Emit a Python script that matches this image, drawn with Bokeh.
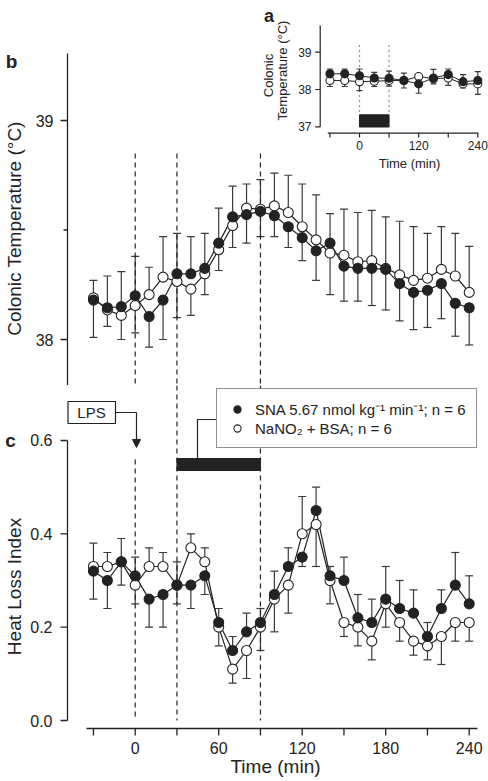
import numpy as np
from bokeh.plotting import figure
from bokeh.models import (Range1d, ColumnDataSource, Whisker, TeeHead, Legend, LegendItem,
                          Arrow, NormalHead)
from bokeh.layouts import column
from bokeh.embed import file_html
from bokeh.resources import INLINE
from bokeh.core.properties import value

# ---------------- data ----------------
time_main = [-30, -20, -10, 0, 10, 20, 30, 40, 50, 60, 70, 80, 90, 100, 110, 120,
             130, 140, 150, 160, 170, 180, 190, 200, 210, 220, 230, 240]

temp_sna = [38.18, 38.145, 38.15, 38.20, 38.105, 38.18, 38.30, 38.30, 38.325, 38.44,
            38.56, 38.57, 38.585, 38.565, 38.515, 38.465, 38.405, 38.44, 38.335, 38.325,
            38.325, 38.32, 38.255, 38.215, 38.225, 38.255, 38.165, 38.145]
temp_sna_sem = [0.17, 0.145, 0.16, 0.18, 0.14, 0.18, 0.185, 0.17, 0.16, 0.16,
                0.14, 0.13, 0.115, 0.095, 0.095, 0.105, 0.135, 0.135, 0.16, 0.15,
                0.17, 0.185, 0.17, 0.17, 0.17, 0.16, 0.15, 0.17]
temp_nit = [38.19, 38.135, 38.11, 38.155, 38.205, 38.285, 38.265, 38.23, 38.30, 38.41,
            38.52, 38.60, 38.595, 38.61, 38.58, 38.515, 38.455, 38.395, 38.385, 38.355,
            38.36, 38.325, 38.295, 38.27, 38.28, 38.32, 38.29, 38.215]
temp_nit_sem = [0.08, 0.075, 0.11, 0.125, 0.125, 0.185, 0.165, 0.12, 0.095, 0.095,
                0.10, 0.11, 0.135, 0.15, 0.17, 0.195, 0.205, 0.19, 0.21, 0.225,
                0.23, 0.235, 0.245, 0.245, 0.205, 0.195, 0.195, 0.21]

hli_sna = [0.32, 0.30, 0.34, 0.31, 0.26, 0.27, 0.29, 0.29, 0.31, 0.21, 0.15, 0.19, 0.21, 0.27,
           0.33, 0.35, 0.45, 0.31, 0.30, 0.22, 0.21, 0.26, 0.24, 0.23, 0.18, 0.24, 0.29, 0.25]
hli_sna_sem = [0.06, 0.06, 0.05, 0.04, 0.06, 0.07, 0.05, 0.05, 0.04, 0.03, 0.03, 0.04, 0.03, 0.05,
               0.04, 0.02, 0.05, 0.02, 0.05, 0.05, 0.05, 0.07, 0.06, 0.05, 0.03, 0.04, 0.07, 0.06]
hli_nit = [0.33, 0.33, 0.34, 0.29, 0.33, 0.33, 0.29, 0.37, 0.34, 0.20, 0.11, 0.15, 0.20, 0.26,
           0.29, 0.40, 0.42, 0.30, 0.21, 0.20, 0.17, 0.25, 0.21, 0.17, 0.16, 0.18, 0.21, 0.21]
hli_nit_sem = [0.05, 0.03, 0.05, 0.04, 0.04, 0.03, 0.04, 0.03, 0.03, 0.04, 0.03, 0.06, 0.05, 0.07,
               0.06, 0.08, 0.09, 0.05, 0.03, 0.04, 0.04, 0.05, 0.04, 0.03, 0.03, 0.06, 0.04, 0.04]

time_inset = [-60, -30, 0, 30, 60, 90, 120, 150, 180, 210, 240]
inset_sna = [38.42, 38.42, 38.37, 38.31, 38.30, 38.24, 38.15, 38.31, 38.40, 38.21, 38.24]
inset_sna_sem = [0.13, 0.13, 0.18, 0.15, 0.19, 0.20, 0.25, 0.23, 0.15, 0.19, 0.24]
inset_nit = [38.24, 38.24, 38.21, 38.22, 38.24, 38.24, 38.35, 38.29, 38.31, 38.15, 38.15]
inset_nit_sem = [0.16, 0.16, 0.24, 0.14, 0.15, 0.20, 0.05, 0.14, 0.20, 0.11, 0.28]

lps_time = 0
infusion_main = [30, 90]
infusion_inset = [0, 60]

x_ticks_labeled = [0, 60, 120, 180, 240]
x_ticks_all = [-30, 0, 30, 60, 90, 120, 150, 180, 210, 240]
temp_ticks = [38, 39]
temp_minor_ticks = [38.5]
hli_ticks = [0.0, 0.2, 0.4, 0.6]
inset_y_ticks = [37, 38, 39]
inset_x_ticks = [-60, 0, 60, 120, 180, 240]
inset_x_labels = [0, 120, 240]

sna_label = "SNA 5.67 nmol kg\u207b\u00b9 min\u207b\u00b9; n = 6"
nit_label = "NaNO\u2082 + BSA; n = 6"

# ---------------- style / layout ----------------
FONT = "Liberation Sans"
INK = "#222222"
BAR_INK = "#3a3a3a"
W = 488


# page-pixel -> data helpers (used only to place layout items)
def bx(px):   # main time axis
    return (px - 134.7) / 1.3917


def by(py):   # panel b temperature
    return 38 + (339 - py) / 219.0


def cy(py):   # panel c heat loss index
    return (720 - py) / 466.7


def ix(px):   # inset time
    return (px - 359) / 0.4929


def iy(py):   # inset temperature
    return 39 - (py - 51.7) / 37.3


def whisker_limits(a, b, sa, sb):
    """Upper series gets an upward bar, lower series a downward bar."""
    a_up, a_lo, b_up, b_lo = [], [], [], []
    for ya, yb, ea, eb in zip(a, b, sa, sb):
        if ya >= yb:
            a_up.append(ya + ea); a_lo.append(ya)
            b_up.append(yb); b_lo.append(yb - eb)
        else:
            a_up.append(ya); a_lo.append(ya - ea)
            b_up.append(yb + eb); b_lo.append(yb)
    return a_up, a_lo, b_up, b_lo


def txt(p, xs, ys, texts, size, align="center", baseline="middle", angle=0.0,
        bold=False, **rn):
    p.text(x=xs, y=ys, text=texts, angle=angle, text_font=value(FONT),
           text_font_size=value(size), text_font_style="bold" if bold else "normal",
           text_align=align, text_baseline=baseline, text_color=INK, **rn)


def seg(p, x0, x1, y0, y1, width=1.3, dash="solid", **rn):
    p.segment(x0=x0, x1=x1, y0=y0, y1=y1, line_color=INK, line_width=width,
              line_dash=dash, **rn)


def draw_series(p, t, ys, sems, yo, semo, size, head, lw, **rn):
    su, sl, ou, ol = whisker_limits(ys, yo, sems, semo)
    src_s = ColumnDataSource(dict(t=t, y=ys, u=su, l=sl))
    src_o = ColumnDataSource(dict(t=t, y=yo, u=ou, l=ol))
    for src in (src_o, src_s):
        w = Whisker(source=src, base="t", upper="u", lower="l", dimension="height",
                    line_color=BAR_INK, line_width=1.2, level="underlay",
                    upper_head=TeeHead(size=head, line_color=BAR_INK, line_width=1.2),
                    lower_head=TeeHead(size=head, line_color=BAR_INK, line_width=1.2), **rn)
        p.add_layout(w)
    p.line("t", "y", source=src_o, line_color=INK, line_width=lw, **rn)
    p.line("t", "y", source=src_s, line_color=INK, line_width=lw, **rn)
    r_o = p.scatter("t", "y", source=src_o, marker="circle", size=size, fill_color="white",
                    line_color=INK, line_width=1.1, **rn)
    r_s = p.scatter("t", "y", source=src_s, marker="circle", size=size, fill_color=INK,
                    line_color=INK, line_width=1.1, **rn)
    return r_s, r_o


def make_fig(height, y_range, x_range):
    p = figure(width=W, height=height, output_backend="svg", toolbar_location=None,
               x_range=x_range, y_range=y_range, x_axis_location=None, y_axis_location=None,
               min_border_left=0, min_border_right=0, min_border_top=0, min_border_bottom=0,
               outline_line_color=None, background_fill_color="white",
               border_fill_color="white")
    p.grid.visible = False
    return p


# frames: b covers page y 0..385, c covers 385..781, both x 0..488
x_range = Range1d(bx(0), bx(488))

# ================= panel b (colonic temperature) =================
pb = make_fig(385, Range1d(by(385), by(0)), x_range)

# y axis of b
seg(pb, [bx(67)], [bx(67)], [by(385)], [by(53)])
seg(pb, [bx(67)] * 2, [bx(60)] * 2, temp_ticks, temp_ticks)
seg(pb, [bx(67)], [bx(63)], temp_minor_ticks, temp_minor_ticks)
txt(pb, [bx(53)] * 2, temp_ticks, [str(v) for v in temp_ticks], "16px", align="right")
txt(pb, [bx(14)], [by(228)], ["Colonic Temperature (\u00b0C)"], "19px", angle=np.pi / 2)
txt(pb, [bx(11)], [by(61)], ["b"], "19px", bold=True)

# dashed event lines
ev = [lps_time] + infusion_main
seg(pb, ev, ev, [by(153)] * 3, [by(385)] * 3, width=1.2, dash="5 4")

draw_series(pb, time_main, temp_sna, temp_sna_sem, temp_nit, temp_nit_sem, size=10, head=8, lw=1.2)

# ---------- inset a (drawn in panel b with its own ranges) ----------
pb.extra_x_ranges = {"ix": Range1d(ix(0), ix(488))}
pb.extra_y_ranges = {"iy": Range1d(iy(385), iy(0))}
IR = dict(x_range_name="ix", y_range_name="iy")

seg(pb, infusion_inset, infusion_inset, [iy(45)] * 2, [iy(114)] * 2, width=1.2,
    dash="1 4", **IR)
pb.quad(left=[infusion_inset[0]], right=[infusion_inset[1]], bottom=[iy(126.5)],
        top=[iy(114.3)], fill_color=INK, line_color=INK, **IR)
# inset axes
seg(pb, [ix(319.7)], [ix(319.7)], [iy(126.3)], [iy(25)], width=1.2, **IR)
seg(pb, [ix(319.7)] * 3, [ix(314.7)] * 3, inset_y_ticks, inset_y_ticks, width=1.2, **IR)
txt(pb, [ix(311)] * 3, inset_y_ticks, [str(v) for v in inset_y_ticks], "12px",
    align="right", **IR)
seg(pb, [ix(327.3)], [ix(478)], [iy(132.7)], [iy(132.7)], width=1.2, **IR)
seg(pb, inset_x_ticks, inset_x_ticks, [iy(132.7)] * 6, [iy(137)] * 6, width=1.2, **IR)
txt(pb, inset_x_labels, [iy(145)] * 3, [str(v) for v in inset_x_labels], "12px", **IR)
txt(pb, [ix(409)], [iy(162.5)], ["Time (min)"], "13px", **IR)
txt(pb, [ix(268), ix(282)], [iy(75), iy(70)], ["Colonic", "Temperature (\u00b0C)"], "13px",
    angle=np.pi / 2, **IR)
txt(pb, [ix(268.5)], [iy(15)], ["a"], "18px", bold=True, **IR)

draw_series(pb, time_inset, inset_sna, inset_sna_sem, inset_nit, inset_nit_sem,
            size=8, head=6, lw=1.0, **IR)

# ================= panel c (heat loss index) =================
pc = make_fig(396, Range1d(cy(781), cy(385)), x_range)

# y axis of c
seg(pc, [bx(67)], [bx(67)], [hli_ticks[0]], [hli_ticks[-1]])
seg(pc, [bx(67)] * 4, [bx(60)] * 4, hli_ticks, hli_ticks)
txt(pc, [bx(52)] * 4, hli_ticks, ["%.1f" % v for v in hli_ticks], "16px", align="right")
txt(pc, [bx(14)], [cy(586)], ["Heat Loss Index"], "19px", angle=np.pi / 2)
txt(pc, [bx(10)], [cy(440)], ["c"], "19px", bold=True)

# x axis of c
seg(pc, [bx(86)], [bx(477)], [cy(728)], [cy(728)])
seg(pc, x_ticks_all, x_ticks_all, [cy(728)] * len(x_ticks_all), [cy(735)] * len(x_ticks_all))
txt(pc, x_ticks_labeled, [cy(747)] * len(x_ticks_labeled),
    [str(v) for v in x_ticks_labeled], "16px")
txt(pc, [bx(275)], [cy(766)], ["Time (min)"], "19px")

# dashed event lines
seg(pc, ev, ev, [cy(459), cy(385), cy(385)], [0, 0, 0], width=1.2, dash="5 4")
# infusion bar
pc.quad(left=[infusion_main[0]], right=[infusion_main[1]], bottom=[cy(470)], top=[cy(458)],
        fill_color=INK, line_color=INK)
# LPS box and arrow
pc.quad(left=[bx(67.5)], right=[bx(115)], bottom=[cy(423)], top=[cy(401)], fill_color="white",
        line_color=INK, line_width=1.2)
txt(pc, [bx(91)], [cy(412)], ["LPS"], "15px")
pc.line(x=[bx(115), bx(136)], y=[cy(412), cy(412)], line_color=INK, line_width=1.2)
pc.add_layout(Arrow(end=NormalHead(size=8, fill_color=INK, line_color=INK, line_width=1),
                    x_start=bx(136), y_start=cy(412), x_end=bx(136), y_end=cy(447),
                    line_color=INK, line_width=1.2))
# legend connector
pc.line(x=[bx(216), bx(197), bx(197)], y=[cy(419), cy(419), cy(458)], line_color=INK,
        line_width=1.2)

r_s, r_o = draw_series(pc, time_main, hli_sna, hli_sna_sem, hli_nit, hli_nit_sem,
                       size=10, head=8, lw=1.2)

legend = Legend(items=[LegendItem(label=sna_label, renderers=[r_s]),
                       LegendItem(label=nit_label, renderers=[r_o])],
                location=(216, 333), padding=10, spacing=0, margin=0,
                label_height=18, glyph_height=18, glyph_width=20, label_standoff=8,
                label_text_font=FONT, label_text_font_size="15px", label_text_color=INK,
                border_line_color=INK, border_line_width=1.2,
                background_fill_color="white", background_fill_alpha=1.0)
pc.add_layout(legend)

layout = column(pb, pc, spacing=0)
open("out.html", "w").write(file_html(layout, INLINE))
